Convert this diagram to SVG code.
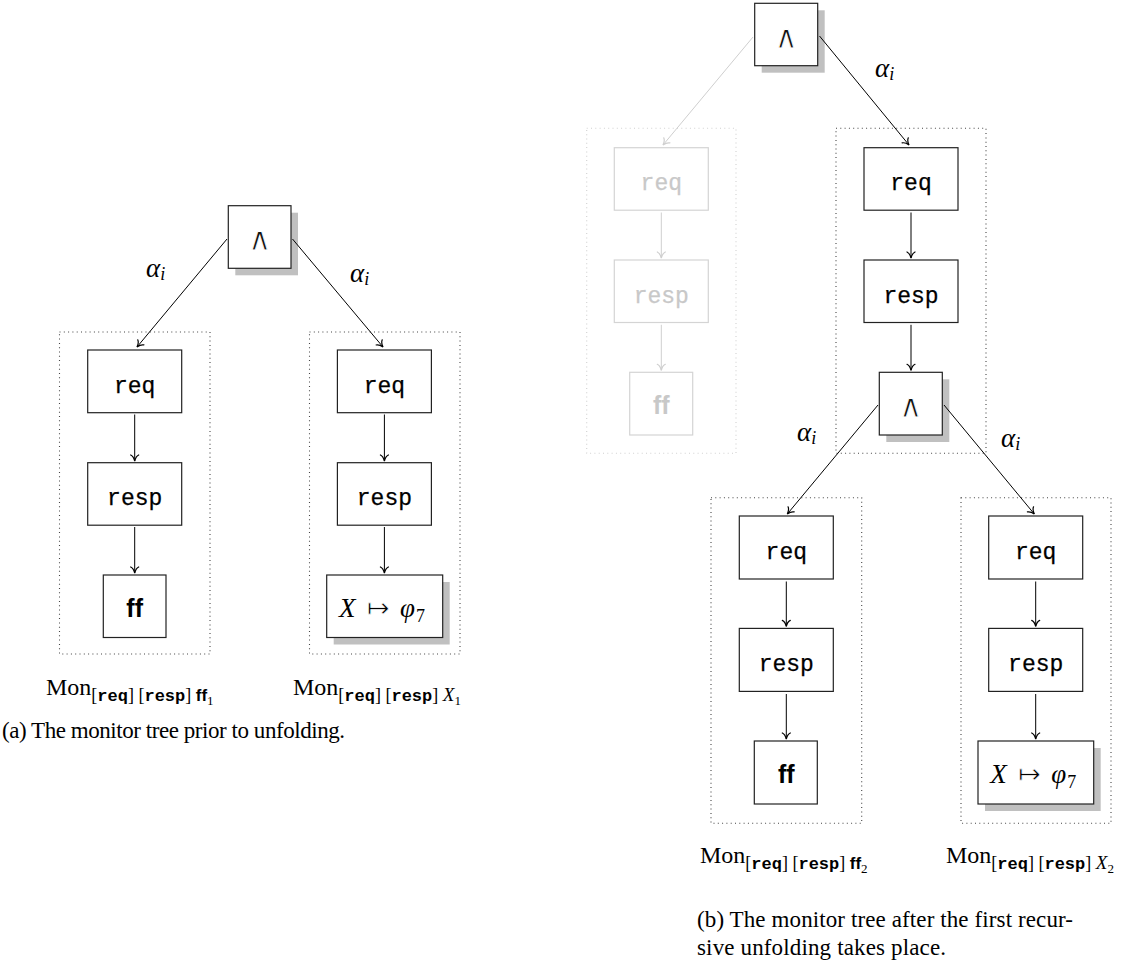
<svg xmlns="http://www.w3.org/2000/svg" width="1144" height="970" viewBox="0 0 1144 970">
  <style>
    .box { fill: #fff; stroke: #222; stroke-width: 1.2; }
    .dimbox { fill: #fff; stroke: #d4d4d4; stroke-width: 1.2; }
    .shadow { fill: #c0c0c0; }
    .group { fill: none; stroke: #444; stroke-width: 1.1; stroke-dasharray: 1 3.3; }
    .dimgroup { fill: none; stroke: #d0d0d0; stroke-width: 1.1; stroke-dasharray: 1 3.3; }
    .edge { fill: none; stroke: #000; stroke-width: 1; marker-end: url(#arr); }
    .dimedge { fill: none; stroke: #cfcfcf; stroke-width: 1; marker-end: url(#arrdim); }
    .tt { font-family: "Liberation Mono", monospace; font-size: 23px; fill: #000; stroke: #000; stroke-width: 0.25; text-anchor: middle; }
    .sf { font-family: "Liberation Sans", sans-serif; font-weight: bold; font-size: 25px; fill: #000; text-anchor: middle; }
    .op { font-family: "DejaVu Sans", sans-serif; font-size: 32px; fill: #111; stroke: #fff; stroke-width: 0.9; text-anchor: middle; }
    .dim { fill: #c8c8c8; stroke: #c8c8c8; }
    .math { font-family: "Liberation Serif", serif; font-style: italic; font-size: 27px; fill: #000; }
    .mathsub { font-family: "Liberation Serif", serif; font-style: italic; font-size: 18px; fill: #000; }
    .num { font-family: "Liberation Serif", serif; font-size: 18px; fill: #000; }
    .arrowsym { font-family: "DejaVu Sans", sans-serif; font-size: 27px; fill: #000; stroke: #fff; stroke-width: 0.7; text-anchor: middle; }
    .rm { font-family: "Liberation Serif", serif; font-size: 24px; fill: #000; }
    .cap { font-family: "Liberation Serif", serif; font-size: 23px; fill: #000; }
    .srm { font-family: "Liberation Serif", serif; font-size: 18px; }
    .stt { font-family: "Liberation Mono", monospace; font-size: 17px; font-weight: bold; }
    .ssf { font-family: "Liberation Sans", sans-serif; font-size: 17px; font-weight: bold; }
    .sit { font-family: "Liberation Serif", serif; font-style: italic; font-size: 19px; }
    .ssub { font-family: "Liberation Serif", serif; font-size: 13px; }
  </style>
  <defs>
    <marker id="arr" viewBox="-8 -6 10 12" markerWidth="10" markerHeight="12" refX="0" refY="0" orient="auto" markerUnits="userSpaceOnUse" overflow="visible">
      <path d="M-6,-4 C-4.8,-1.6 -1.6,-0.4 0,0 C-1.6,0.4 -4.8,1.6 -6,4" fill="none" stroke="#000" stroke-width="1.2" stroke-linecap="round"/>
    </marker>
    <marker id="arrdim" viewBox="-8 -6 10 12" markerWidth="10" markerHeight="12" refX="0" refY="0" orient="auto" markerUnits="userSpaceOnUse" overflow="visible">
      <path d="M-6,-4 C-4.8,-1.6 -1.6,-0.4 0,0 C-1.6,0.4 -4.8,1.6 -6,4" fill="none" stroke="#cfcfcf" stroke-width="1.2" stroke-linecap="round"/>
    </marker>
  </defs>

  <!-- ============ (a) tree before unfolding ============ -->
  <g id="a-group-ff"><rect class="group" x="59.5" y="332" width="150.5" height="322"/></g>
  <g id="a-group-x"><rect class="group" x="309.5" y="332" width="150.5" height="322"/></g>

  <g id="a-and">
    <rect class="shadow" x="235.3" y="212.7" width="62.7" height="62.6"/>
    <rect class="box" x="228.3" y="205.7" width="62.7" height="62.6"/>
    <text class="op" x="259.7" y="250">∧</text>
  </g>
  <g id="a-req-1"><rect class="box" x="87.7" y="350" width="94" height="62.7"/><text class="tt" x="134.7" y="392.5">req</text></g>
  <g id="a-resp-1"><rect class="box" x="87.7" y="462.7" width="94" height="62.5"/><text class="tt" x="134.7" y="505">resp</text></g>
  <g id="a-ff"><rect class="box" x="103.3" y="575" width="62.7" height="62.5"/><text class="sf" x="134.7" y="616.5">ff</text></g>

  <g id="a-req-2"><rect class="box" x="337.4" y="350" width="94" height="62.7"/><text class="tt" x="384.4" y="392.5">req</text></g>
  <g id="a-resp-2"><rect class="box" x="337.4" y="462.7" width="94" height="62.5"/><text class="tt" x="384.4" y="505">resp</text></g>
  <g id="a-x">
    <rect class="shadow" x="333.7" y="582" width="116" height="62.5"/>
    <rect class="box" x="326.7" y="575" width="116" height="62.5"/>
    <text class="math" x="339" y="617">X</text>
    <text class="arrowsym" x="378" y="617">↦</text>
    <text class="math" x="400" y="617">φ</text>
    <text class="num" x="416" y="622">7</text>
  </g>

  <g id="a-connectors">
    <line class="edge" x1="227" y1="239" x2="137" y2="347"/>
    <line class="edge" x1="292.5" y1="239" x2="383" y2="347"/>
    <line class="edge" x1="134.7" y1="414.5" x2="134.7" y2="461"/>
    <line class="edge" x1="134.7" y1="527" x2="134.7" y2="573"/>
    <line class="edge" x1="384.4" y1="414.5" x2="384.4" y2="461"/>
    <line class="edge" x1="384.4" y1="527" x2="384.4" y2="573"/>
  </g>

  <g id="a-labels">
    <text class="math" x="146" y="277">α<tspan class="mathsub" dy="3">i</tspan></text>
    <text class="math" x="350" y="282">α<tspan class="mathsub" dy="3">i</tspan></text>
    <text class="rm" x="46" y="695">Mon<tspan class="srm" dy="6">[</tspan><tspan class="stt">req</tspan><tspan class="srm">] [</tspan><tspan class="stt">resp</tspan><tspan class="srm">] </tspan><tspan class="ssf">ff</tspan><tspan class="ssub" dy="4">1</tspan></text>
    <text class="rm" x="293" y="695">Mon<tspan class="srm" dy="6">[</tspan><tspan class="stt">req</tspan><tspan class="srm">] [</tspan><tspan class="stt">resp</tspan><tspan class="srm">] </tspan><tspan class="sit">X</tspan><tspan class="ssub" dy="4">1</tspan></text>
    <text class="cap" x="2" y="738" textLength="343" lengthAdjust="spacing">(a) The monitor tree prior to unfolding.</text>
  </g>

  <!-- ============ (b) tree after the first unfolding ============ -->
  <g id="b-group-old"><rect class="dimgroup" x="586.7" y="128.3" width="149.3" height="325"/></g>
  <g id="b-group-new"><rect class="group" x="836" y="128.3" width="150" height="325"/></g>
  <g id="b-group-ff"><rect class="group" x="711" y="497.7" width="150.7" height="325.6"/></g>
  <g id="b-group-x"><rect class="group" x="961" y="497.7" width="150" height="325.6"/></g>

  <g id="b-and-top">
    <rect class="shadow" x="761.7" y="10.3" width="63" height="62.4"/>
    <rect class="box" x="754.7" y="3.3" width="63" height="62.4"/>
    <text class="op" x="786.2" y="47.5">∧</text>
  </g>

  <g id="b-old-req"><rect class="dimbox" x="614.3" y="147.7" width="94" height="62.5"/><text class="tt dim" x="661.3" y="190">req</text></g>
  <g id="b-old-resp"><rect class="dimbox" x="614.3" y="260" width="94" height="62.5"/><text class="tt dim" x="661.3" y="302.5">resp</text></g>
  <g id="b-old-ff"><rect class="dimbox" x="629.7" y="372.3" width="63" height="62.7"/><text class="sf" x="661.3" y="414" style="fill:#c8c8c8">ff</text></g>

  <g id="b-new-req"><rect class="box" x="864" y="147.7" width="94" height="62.5"/><text class="tt" x="911" y="190">req</text></g>
  <g id="b-new-resp"><rect class="box" x="864" y="260" width="94" height="62.5"/><text class="tt" x="911" y="302.5">resp</text></g>
  <g id="b-and-inner">
    <rect class="shadow" x="886.3" y="379.3" width="63" height="62.7"/>
    <rect class="box" x="879.3" y="372.3" width="63" height="62.7"/>
    <text class="op" x="910.8" y="416.5">∧</text>
  </g>

  <g id="b-req-1"><rect class="box" x="739.3" y="516" width="94" height="63"/><text class="tt" x="786.3" y="558.5">req</text></g>
  <g id="b-resp-1"><rect class="box" x="739.3" y="628.4" width="94" height="63"/><text class="tt" x="786.3" y="671">resp</text></g>
  <g id="b-ff"><rect class="box" x="754.3" y="741" width="63" height="63"/><text class="sf" x="786.3" y="783">ff</text></g>

  <g id="b-req-2"><rect class="box" x="988.7" y="516" width="94" height="63"/><text class="tt" x="1035.7" y="558.5">req</text></g>
  <g id="b-resp-2"><rect class="box" x="988.7" y="628.4" width="94" height="63"/><text class="tt" x="1035.7" y="671">resp</text></g>
  <g id="b-x">
    <rect class="shadow" x="985" y="748" width="115.7" height="63"/>
    <rect class="box" x="978" y="741" width="115.7" height="63"/>
    <text class="math" x="990.3" y="783">X</text>
    <text class="arrowsym" x="1029.3" y="783">↦</text>
    <text class="math" x="1051.3" y="783">φ</text>
    <text class="num" x="1067.3" y="788">7</text>
  </g>

  <g id="b-connectors">
    <line class="dimedge" x1="753" y1="37" x2="663" y2="145"/>
    <line class="edge" x1="819.5" y1="36" x2="909" y2="145"/>
    <line class="dimedge" x1="661.3" y1="212.5" x2="661.3" y2="258"/>
    <line class="dimedge" x1="661.3" y1="324.8" x2="661.3" y2="370.3"/>
    <line class="edge" x1="911" y1="212.5" x2="911" y2="258"/>
    <line class="edge" x1="911" y1="324.8" x2="911" y2="370.3"/>
    <line class="edge" x1="878" y1="405" x2="787.3" y2="514"/>
    <line class="edge" x1="944" y1="405" x2="1034.3" y2="514"/>
    <line class="edge" x1="786.3" y1="581.5" x2="786.3" y2="626.4"/>
    <line class="edge" x1="786.3" y1="694" x2="786.3" y2="739"/>
    <line class="edge" x1="1035.7" y1="581.5" x2="1035.7" y2="626.4"/>
    <line class="edge" x1="1035.7" y1="694" x2="1035.7" y2="739"/>
  </g>

  <g id="b-labels">
    <text class="math" x="875" y="77">α<tspan class="mathsub" dy="3">i</tspan></text>
    <text class="math" x="797" y="441">α<tspan class="mathsub" dy="3">i</tspan></text>
    <text class="math" x="1001" y="447">α<tspan class="mathsub" dy="3">i</tspan></text>
    <text class="rm" x="700" y="863">Mon<tspan class="srm" dy="6">[</tspan><tspan class="stt">req</tspan><tspan class="srm">] [</tspan><tspan class="stt">resp</tspan><tspan class="srm">] </tspan><tspan class="ssf">ff</tspan><tspan class="ssub" dy="4">2</tspan></text>
    <text class="rm" x="946" y="863">Mon<tspan class="srm" dy="6">[</tspan><tspan class="stt">req</tspan><tspan class="srm">] [</tspan><tspan class="stt">resp</tspan><tspan class="srm">] </tspan><tspan class="sit">X</tspan><tspan class="ssub" dy="4">2</tspan></text>
    <text class="cap" x="697" y="927" textLength="376" lengthAdjust="spacing">(b) The monitor tree after the first recur-</text>
    <text class="cap" x="697" y="955" textLength="249" lengthAdjust="spacing">sive unfolding takes place.</text>
  </g>
</svg>
